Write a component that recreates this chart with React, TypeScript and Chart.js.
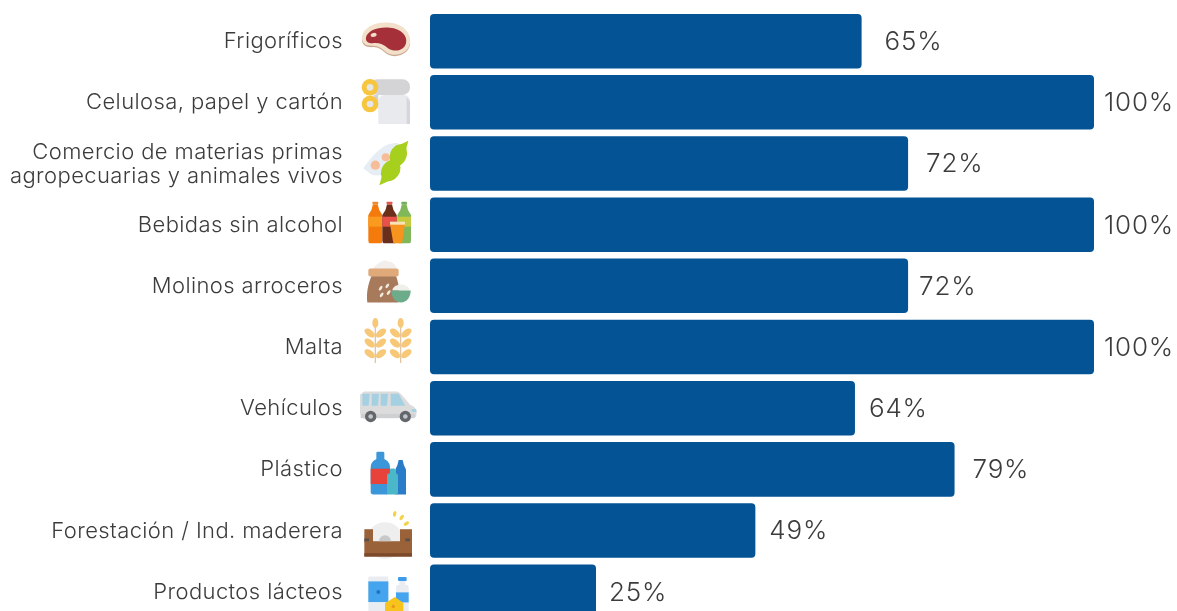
import React, { useEffect, useRef } from "react";
import { Chart, registerables } from "chart.js";

Chart.register(...registerables);

const categories: (string | string[])[] = [
  "Frigoríficos",
  "Celulosa, papel y cartón",
  ["Comercio de materias primas", "agropecuarias y animales vivos"],
  "Bebidas sin alcohol",
  "Molinos arroceros",
  "Malta",
  "Vehículos",
  "Plástico",
  "Forestación / Ind. maderera",
  "Productos lácteos",
];
const values = [65, 100, 72, 100, 72, 100, 64, 79, 49, 25];

const LABEL_GAPS = [23, 10, 18, 10, 11, 10, 14, 18, 14, 13];
const FONT = "Inter, 'Open Sans', sans-serif";

type C = CanvasRenderingContext2D;

function fill(c: C, color: string, f: () => void) {
  c.fillStyle = color;
  c.beginPath();
  f();
  c.fill();
}
function poly(c: C, color: string, pts: number[]) {
  fill(c, color, () => {
    c.moveTo(pts[0], pts[1]);
    for (let i = 2; i < pts.length; i += 2) c.lineTo(pts[i], pts[i + 1]);
    c.closePath();
  });
}
function rr(c: C, color: string, x: number, y: number, w: number, h: number, r: number | number[]) {
  fill(c, color, () => c.roundRect(x, y, w, h, r));
}
function circ(c: C, color: string, x: number, y: number, r: number) {
  fill(c, color, () => c.arc(x, y, r, 0, Math.PI * 2));
}
function ell(c: C, color: string, x: number, y: number, rx: number, ry: number, a: number) {
  fill(c, color, () => c.ellipse(x, y, rx, ry, a, 0, Math.PI * 2));
}

function meat(c: C) {
  const shape = () => {
    c.moveTo(66, 115);
    c.bezierCurveTo(70, 85, 110, 68, 150, 73);
    c.bezierCurveTo(190, 76, 215, 105, 210, 135);
    c.bezierCurveTo(205, 165, 165, 178, 140, 162);
    c.bezierCurveTo(125, 150, 115, 140, 95, 142);
    c.bezierCurveTo(75, 142, 64, 132, 66, 115);
    c.closePath();
  };
  fill(c, "#c9a88f", shape);
  c.save();
  c.translate(0, -4);
  fill(c, "#f3e0cb", shape);
  c.restore();
  fill(c, "#a5303a", () => {
    c.moveTo(78, 112);
    c.bezierCurveTo(84, 92, 115, 80, 150, 84);
    c.bezierCurveTo(182, 86, 204, 108, 198, 130);
    c.bezierCurveTo(192, 152, 165, 158, 145, 146);
    c.bezierCurveTo(130, 132, 115, 128, 98, 130);
    c.bezierCurveTo(84, 130, 76, 124, 78, 112);
    c.closePath();
  });
  ell(c, "#f0dccb", 101, 105, 9, 6, -0.2);
}

function paper(c: C) {
  rr(c, "#d4d4d6", 90, 238, 120, 47, 22);
  rr(c, "#e9eaee", 115, 285, 95, 87, [18, 18, 0, 0]);
  poly(c, "#d4d6dc", [200, 290, 210, 305, 210, 372, 200, 372]);
  poly(c, "#d0d2d8", [100, 285, 115, 285, 115, 330]);
  for (const y of [262, 312]) {
    circ(c, "#f7c63e", 90, y, 25);
    circ(c, "#e6e6e6", 90, y, 10);
  }
}

function soy(c: C) {
  fill(c, "#e6edf4", () => {
    c.moveTo(70, 505);
    c.bezierCurveTo(95, 470, 130, 425, 175, 430);
    c.bezierCurveTo(180, 470, 150, 540, 95, 525);
    c.closePath();
  });
  circ(c, "#f7bd98", 106, 496, 14);
  circ(c, "#f7bd98", 137, 472, 12);
  const green = "#a6cf1e";
  ell(c, green, 175, 466, 25, 34, 0.35);
  ell(c, green, 152, 512, 27, 34, 0.6);
  poly(c, green, [118, 556, 128, 520, 165, 535]);
  poly(c, green, [205, 423, 180, 435, 198, 450]);
}

function bottle(c: C, x: number, w: number, body: string, lab: string, cap: string) {
  rr(c, cap, x + w * 0.3, 605, w * 0.4, 9, 2);
  fill(c, body, () => {
    c.moveTo(x + w * 0.32, 614);
    c.lineTo(x + w * 0.68, 614);
    c.quadraticCurveTo(x + w * 0.72, 630, x + w, 645);
    c.lineTo(x + w, 722);
    c.quadraticCurveTo(x + w, 730, x + w - 6, 730);
    c.lineTo(x + 6, 730);
    c.quadraticCurveTo(x, 730, x, 722);
    c.lineTo(x, 645);
    c.quadraticCurveTo(x + w * 0.28, 630, x + w * 0.32, 614);
    c.closePath();
  });
  c.fillStyle = lab;
  c.fillRect(x, 650, w, 30);
}
function soda(c: C) {
  bottle(c, 85, 42, "#f57a0c", "#fa9a1e", "#f08a2a");
  bottle(c, 172, 41, "#7fb75a", "#c5c93e", "#6fae5c");
  bottle(c, 127, 43, "#6a2f1a", "#e8504a", "#e2564e");
  poly(c, "#f7941d", [150, 672, 195, 672, 186, 730, 160, 730]);
  c.fillStyle = "#f8e3b8";
  c.fillRect(150, 665, 45, 9);
}

function sack(c: C) {
  fill(c, "#f1eeeb", () => {
    c.moveTo(95, 810);
    c.bezierCurveTo(110, 790, 135, 775, 145, 785);
    c.bezierCurveTo(160, 785, 170, 800, 170, 810);
    c.closePath();
  });
  fill(c, "#a87a5c", () => {
    c.moveTo(95, 828);
    c.lineTo(168, 828);
    c.bezierCurveTo(180, 860, 178, 890, 175, 908);
    c.lineTo(82, 908);
    c.bezierCurveTo(78, 880, 85, 850, 95, 828);
    c.closePath();
  });
  rr(c, "#dfa97a", 85, 806, 91, 24, 6);
  ell(c, "#f2ebe0", 122, 865, 4, 8, 0.6);
  ell(c, "#f2ebe0", 142, 858, 4, 8, 0.6);
  ell(c, "#f2ebe0", 125, 885, 4, 8, 0.6);
  ell(c, "#f2ebe0", 146, 878, 4, 8, 0.6);
  fill(c, "#f1efe9", () => c.ellipse(183, 872, 26, 18, 0, Math.PI, 0));
  fill(c, "#6dac8a", () => {
    c.moveTo(154, 872);
    c.lineTo(212, 872);
    c.bezierCurveTo(212, 892, 200, 908, 183, 908);
    c.bezierCurveTo(166, 908, 154, 892, 154, 872);
    c.closePath();
  });
}

function wheatStalk(c: C, x: number) {
  c.strokeStyle = "#e3c5a3";
  c.lineWidth = 4;
  c.beginPath();
  c.moveTo(x, 45);
  c.lineTo(x, 160);
  c.stroke();
  ell(c, "#f6c878", x, 40, 9, 15, 0);
  for (const y of [70, 100, 132]) {
    ell(c, "#f6c878", x - 17, y, 18, 10, 0.65);
    ell(c, "#f6c878", x + 17, y, 18, 10, -0.65);
  }
}
function wheat(c: C) {
  wheatStalk(c, 106);
  wheatStalk(c, 182);
}

function van(c: C) {
  fill(c, "#dcdcdc", () => {
    c.moveTo(72, 245);
    c.lineTo(172, 245);
    c.quadraticCurveTo(182, 248, 210, 285);
    c.quadraticCurveTo(230, 292, 230, 308);
    c.lineTo(228, 322);
    c.lineTo(70, 326);
    c.lineTo(60, 310);
    c.lineTo(60, 255);
    c.closePath();
  });
  c.fillStyle = "#cfd0d2";
  c.fillRect(62, 312, 162, 13);
  for (const x of [67, 95, 122]) poly(c, "#a5d0e2", [x, 252, x + 22, 252, x + 19, 288, x, 288]);
  poly(c, "#a5d0e2", [152, 252, 176, 252, 196, 288, 152, 288]);
  c.fillStyle = "#9fd3e6";
  c.fillRect(215, 298, 14, 8);
  for (const x of [92, 196]) {
    circ(c, "#63676c", x, 320, 17);
    circ(c, "#c2c6ca", x, 320, 7);
  }
}

function plastic(c: C) {
  rr(c, "#3b97d9", 92, 445, 58, 108, [26, 26, 8, 8]);
  rr(c, "#3b97d9", 109, 425, 24, 28, 4);
  c.fillStyle = "#e8433a";
  c.fillRect(92, 476, 58, 46);
  fill(c, "#2a7cc8", () => {
    c.moveTo(176, 450);
    c.lineTo(188, 450);
    c.quadraticCurveTo(190, 465, 198, 478);
    c.lineTo(198, 553);
    c.lineTo(166, 553);
    c.lineTo(166, 478);
    c.quadraticCurveTo(174, 465, 176, 450);
    c.closePath();
  });
  rr(c, "#4ab8c8", 141, 490, 33, 63, 6);
  rr(c, "#4ab8c8", 150, 475, 15, 20, 3);
}

function saw(c: C) {
  circ(c, "#eeeeee", 135, 692, 55);
  c.fillStyle = "#9a6238";
  c.fillRect(73, 658, 26, 40);
  c.fillRect(180, 658, 36, 40);
  c.fillRect(73, 694, 143, 46);
  c.fillStyle = "#7b4a2a";
  c.fillRect(73, 730, 143, 10);
  fill(c, "#c8c8c8", () => c.arc(135, 694, 18, Math.PI, 0));
  c.fillStyle = "#57504c";
  c.fillRect(73, 686, 14, 8);
  c.fillRect(196, 686, 14, 8);
  ell(c, "#f6d24a", 164, 612, 5, 9, 0.2);
  ell(c, "#f6d24a", 185, 623, 5, 9, 0.6);
  ell(c, "#f6d24a", 199, 641, 5, 9, 1.0);
}

function dairy(c: C) {
  rr(c, "#e9edf2", 85, 800, 60, 110, 3);
  c.fillStyle = "#45a4ee";
  c.fillRect(85, 815, 60, 62);
  circ(c, "#1f72c8", 115, 847, 6);
  rr(c, "#e9edf2", 168, 825, 38, 85, 8);
  rr(c, "#3f9cea", 174, 802, 26, 12, 3);
  c.fillStyle = "#e9edf2";
  c.fillRect(178, 814, 18, 15);
  c.fillStyle = "#45a4ee";
  c.fillRect(168, 848, 38, 30);
  poly(c, "#f7c31d", [135, 880, 165, 862, 190, 880, 190, 910, 135, 910]);
  circ(c, "#e89a18", 160, 890, 5);
}

// [draw, vertical centre of the row in the icon's own drawing space]
const iconDrawers: [(c: C) => void, number][] = [
  [meat, 124], [paper, 307], [soy, 491], [soda, 674], [sack, 858],
  [wheat, 112], [van, 295], [plastic, 478], [saw, 662], [dairy, 846],
];

const decorations = {
  id: "decorations",
  beforeDraw(chart: any) {
    // Tick labels sit slightly below the bar centres in the reference.
    chart.ctx.save();
    chart.ctx.letterSpacing = "0.4px";
    chart.ctx.translate(0, 0.5);
  },
  beforeDatasetsDraw(chart: any) {
    chart.ctx.restore();
  },
  afterDatasetsDraw(chart: any) {
    const { ctx, scales } = chart;
    const meta = chart.getDatasetMeta(0);
    iconDrawers.forEach(([draw, cz], i) => {
      const cy = scales.y.getPixelForTick(i);
      ctx.save();
      ctx.translate(340, cy);
      ctx.scale(1 / 3, 1 / 3);
      ctx.translate(0, -cz);
      draw(ctx);
      ctx.restore();
    });
    ctx.save();
    ctx.font = `350 26px ${FONT}`;
    ctx.letterSpacing = "0.8px";
    ctx.fillStyle = "#3c3c3c";
    ctx.textBaseline = "middle";
    ctx.textAlign = "left";
    meta.data.forEach((bar: any, i: number) => {
      ctx.fillText(`${values[i]}%`, bar.x + LABEL_GAPS[i], bar.y + 1);
    });
    ctx.restore();
  },
};

export default function App() {
  const ref = useRef<HTMLCanvasElement>(null);
  useEffect(() => {
    const chart = new Chart(ref.current!, {
      type: "bar",
      data: {
        labels: categories as any,
        datasets: [
          {
            data: values,
            backgroundColor: "#035395",
            borderRadius: 4,
            borderSkipped: false,
            barPercentage: 0.891,
            categoryPercentage: 1,
          },
        ],
      },
      options: {
        indexAxis: "y",
        responsive: false,
        animation: false,
        layout: { autoPadding: false, padding: { top: 10.6, bottom: 17.7, right: 83, left: 0 } },
        plugins: { legend: { display: false }, tooltip: { enabled: false } },
        scales: {
          x: { display: false, min: 0, max: 100 },
          y: {
            border: { display: false },
            grid: { display: false, drawTicks: true, tickLength: 87 },
            afterFit(scale: any) {
              scale.width = 430;
              scale.paddingTop = 0;
              scale.paddingBottom = 0;
            },
            ticks: {
              padding: 0,
              autoSkip: false,
              color: "#3c3c3c",
              font: { family: FONT, size: 22, weight: "350", lineHeight: 1.09 },
            },
          },
        },
      },
      plugins: [decorations],
    } as any);
    return () => chart.destroy();
  }, []);
  return (
    <div style={{ position: "fixed", left: 0, top: 0, width: 1177, height: 611, overflow: "hidden", background: "#fff" }}>
      <canvas ref={ref} width={1177} height={640} style={{ display: "block" }} />
    </div>
  );
}
